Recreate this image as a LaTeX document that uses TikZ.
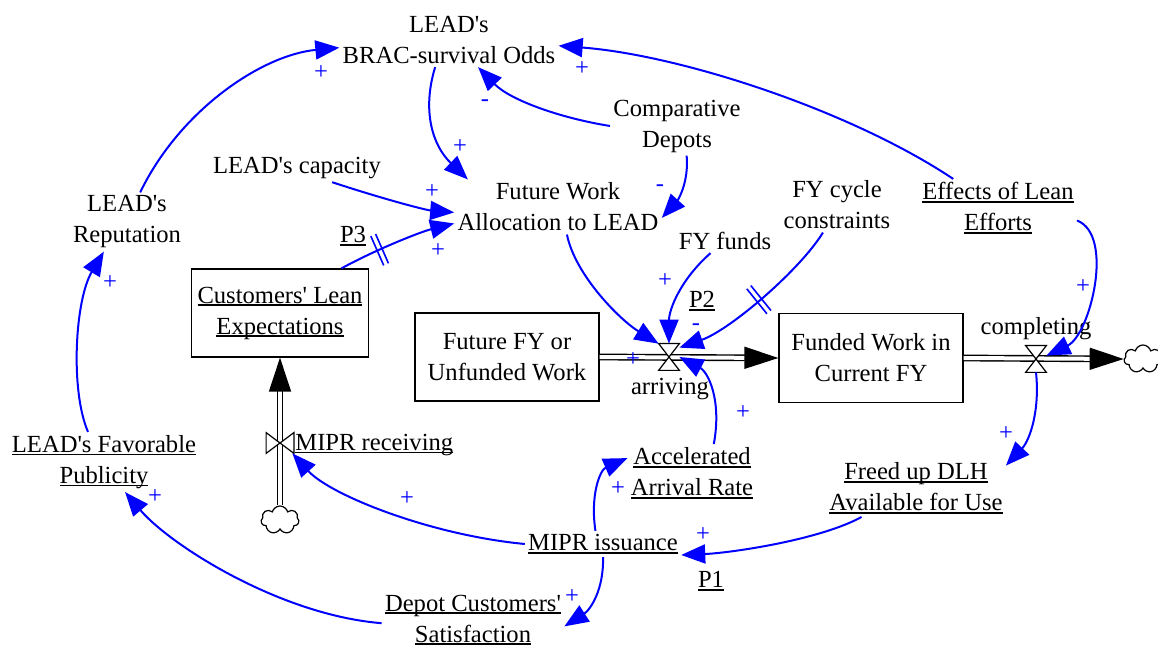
\documentclass[tikz,border=0pt]{standalone}
\usepackage{fontspec}
\setmainfont{Liberation Serif}
\usetikzlibrary{arrows.meta,shapes.symbols,decorations.markings}

\newcommand{\uln}[1]{\leavevmode\setbox0\hbox{#1}\rlap{\rule[-1.5pt]{\wd0}{0.9pt}}\box0}
\newcommand{\aps}{\textquotesingle}

\begin{document}
\begin{tikzpicture}[x=0.5pt, y=-0.5pt,
    every node/.style={font=\fontsize{12.3}{15.5}\selectfont, inner sep=1.5pt, align=center},
    stock/.style={draw, line width=0.6pt, minimum width=92pt, minimum height=44pt},
    link/.style={draw=blue, line width=1pt, -{Triangle[length=12pt,width=9.5pt]}},
    sgn/.style={text=blue, inner sep=0pt},
    pipe/.style={draw=black, line width=0.7pt, double=white, double distance=2pt,
                 -{Triangle[length=17pt,width=11pt]}},
    valve/.style={minimum width=10pt, minimum height=13pt, inner sep=0pt},
    valveline/.style={draw=black, fill=white, line width=0.6pt},
    cloudy/.style={cloud, draw, cloud puffs=7, aspect=1.35, minimum width=19pt,
                   minimum height=14pt, inner sep=0pt, line width=0.6pt},
    delay/.style={postaction={decorate, decoration={markings, mark=at position #1 with
                 {\draw[-, blue, line width=0.8pt] (-1.3pt,-8pt) -- (-1.3pt,8pt) (1.3pt,-8pt) -- (1.3pt,8pt);}}}}
]
    \useasboundingbox (0,0) rectangle (1158,646);

    \node (brac) at (449,40) {LEAD\aps s\\BRAC-survival Odds};
    \node (comp) at (677,126) {Comparative\\Depots};
    \node (cap) at (297,168) {LEAD\aps s capacity};
    \node (fwa) at (558,207) {Future Work\\Allocation to LEAD};
    \node (fyc) at (837,205) {FY cycle\\constraints};
    \node (eff) at (998,208) {\uln{Effects of Lean}\\\uln{Efforts}};
    \node (fyf) at (725,241) {FY funds};
    \node (rep) at (127,222) {LEAD\aps s\\Reputation};
    \node (p3) at (353,236) {\uln{P3}};
    \node (p2) at (702,301) {\uln{P2}};
    \node (p1) at (711,581) {\uln{P1}};

    \node[stock, minimum width=88.5pt] (cle) at (280,313) {\uln{Customers\aps{} Lean}\\\uln{Expectations}};
    \node[stock] (ffy) at (507,357) {Future FY or\\Unfunded Work};
    \node[stock, minimum height=44.5pt] (fw) at (871,358) {Funded Work in\\Current FY};

    \node[valve] (arr) at (669,357) {};
    \node (arrl) at (670,389) {arriving};
    \node[valve] (cmpv) at (1036,359) {};
    \node (cmpl) at (1036,329) {completing};
    \node[cloudy] (sink) at (1143,359) {};
    \node[valve, minimum width=13.5pt, minimum height=10pt] (rcv) at (280,443) {};
    \node[anchor=west] (rcvl) at (292,445) {\uln{MIPR receiving}};
    \node[cloudy] (src) at (280,520) {};

    \node (pub) at (104,462) {\uln{LEAD\aps s Favorable}\\\uln{Publicity}};
    \node (acc) at (692,473) {\uln{Accelerated}\\\uln{Arrival Rate}};
    \node (frd) at (916,488) {\uln{Freed up DLH}\\\uln{Available for Use}};
    \node (iss) at (603,544) {\uln{MIPR issuance}};
    \node (dcs) at (473,620) {\uln{Depot Customers\aps}\\\uln{Satisfaction}};

    % flows
    \draw[pipe] (ffy.east) -- (fw.west);
    \draw[pipe] (fw.east) -- (sink.west);
    \draw[pipe] (src.north) -- (cle.south);
    \draw[valveline] (arr.north west) -- (arr.north east) -- (arr.south west) -- (arr.south east) -- cycle;
    \draw[valveline] (cmpv.north west) -- (cmpv.north east) -- (cmpv.south west) -- (cmpv.south east) -- cycle;
    \draw[valveline] (rcv.north west) -- (rcv.south west) -- (rcv.north east) -- (rcv.south east) -- cycle;

    % links
    \draw[link] (rep.66) .. controls (180,110) and (262,55) .. (brac.184);
    \draw[link] (brac.243) .. controls (422,110) and (432,145) .. (fwa.163);
    \draw[link] (comp.west) .. controls (560,118) and (510,100) .. (brac.317);
    \draw[link] (comp.288) .. controls (689,182) and (678,200) .. (fwa.354);
    \draw[link] (cap.338) .. controls (380,198) and (425,210) .. (fwa.183);
    \draw[link, delay=.35] (cle.36) .. controls (375,250) and (420,232) .. (fwa.189);
    \draw[link] (fwa.288) .. controls (575,275) and (620,320) .. (arr.128);
    \draw[link] (fyf.220) .. controls (680,280) and (669,310) .. (arr.north);
    \draw[link, delay=.5] (fyc.243) .. controls (800,270) and (730,330) .. (arr.42);
    \draw[link] (acc.53) .. controls (722,400) and (708,372) .. (arr.east);
    \draw[link] (eff.147) .. controls (850,110) and (680,55) .. (brac.357);
    \draw[link] (eff.351) .. controls (1115,235) and (1090,335) .. (cmpv.18);
    \draw[link] (cmpv.south) .. controls (1040,410) and (1030,440) .. (frd.14);
    \draw[link] (frd.208) .. controls (820,540) and (730,553) .. (iss.352);
    \draw[link] (iss.120) .. controls (590,495) and (600,470) .. (acc.167);
    \draw[link] (iss.west) .. controls (430,535) and (330,495) .. (rcv.320);
    \draw[link] (iss.south) .. controls (604,590) and (590,610) .. (dcs.356);
    \draw[link] (dcs.182) .. controls (280,615) and (170,545) .. (pub.305);
    \draw[link] (pub.118) .. controls (70,390) and (75,300) .. (rep.232);

    % polarities
    \node[sgn] (s1) at (321,73) {+};
    \node[sgn] (s2) at (582,69) {+};
    \node[sgn] (s3) at (485,103) {-};
    \node[sgn] (s4) at (460,147) {+};
    \node[sgn] (s5) at (660,188) {-};
    \node[sgn] (s6) at (432,192) {+};
    \node[sgn] (s7) at (438,251) {+};
    \node[sgn] (s8) at (665,281) {+};
    \node[sgn] (s9) at (696,327) {-};
    \node[sgn] (s10) at (633,360) {+};
    \node[sgn] (s11) at (743,413) {+};
    \node[sgn] (s12) at (1083,287) {+};
    \node[sgn] (s13) at (1006,434) {+};
    \node[sgn] (s14) at (703,535) {+};
    \node[sgn] (s15) at (618,489) {+};
    \node[sgn] (s16) at (407,499) {+};
    \node[sgn] (s17) at (572,597) {+};
    \node[sgn] (s18) at (155,497) {+};
    \node[sgn] (s19) at (110,283) {+};
\end{tikzpicture}
\end{document}
